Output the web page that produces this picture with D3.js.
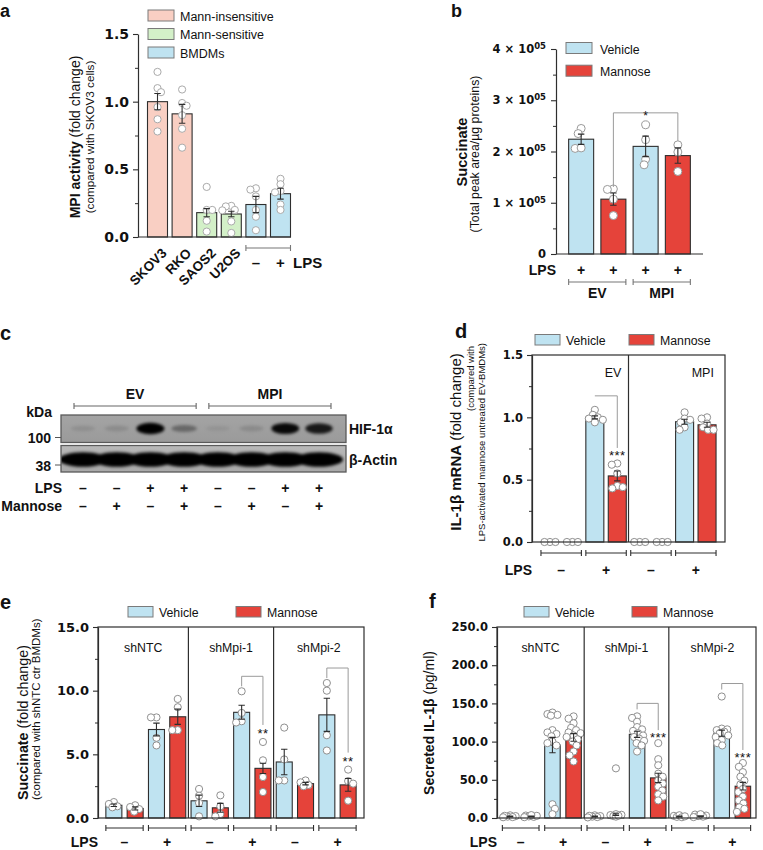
<!DOCTYPE html>
<html>
<head>
<meta charset="utf-8">
<script src="https://cdn.jsdelivr.net/npm/d3@7/dist/d3.min.js"></script>
<style>
html,body{margin:0;padding:0;background:#fff;overflow:hidden}
svg{display:block}
</style>
</head>
<body>
<script>
// ================= DATA =================
// Panel a – MPI activity
const aCategories = ["SKOV3","RKO","SAOS2","U2OS","BMDM LPS–","BMDM LPS+"];
const aTickLabels = ["SKOV3","RKO","SAOS2","U2OS","",""];
const aLpsSigns = ["","","","","–","+"];
const aLegend = ["Mann-insensitive","Mann-sensitive","BMDMs"];
const aType = [0,0,1,1,2,2];
const aMeans = [1.00,0.91,0.18,0.17,0.24,0.32];
const aErrors = [0.06,0.07,0.03,0.02,0.06,0.04];
const aPoints = [
  [1.22,1.10,1.07,0.96,0.87,0.78],
  [1.09,0.99,0.97,0.90,0.80,0.66],
  [0.37,0.20,0.20,0.12,0.04],
  [0.23,0.226,0.20,0.197,0.115,0.03],
  [0.36,0.35,0.30,0.20,0.15,0.05],
  [0.43,0.39,0.34,0.33,0.24,0.20]
];
const aTicks = [0,0.5,1.0,1.5];
const aMinor = [0.25,0.75,1.25];

// Panel b – Succinate
const bCategories = ["EV Vehicle","EV Mannose","MPI Vehicle","MPI Mannose"];
const bTreatment = ["Vehicle","Mannose","Vehicle","Mannose"];
const bGroups = ["EV","MPI"];
const bLpsSigns = ["+","+","+","+"];
const bMeans = [2.24e5,1.07e5,2.10e5,1.92e5];
const bErrors = [0.10e5,0.12e5,0.20e5,0.15e5];
const bPoints = [
  [2.45e5,2.35e5,2.06e5,2.07e5],
  [1.27e5,1.26e5,1.07e5,0.75e5],
  [2.52e5,2.23e5,1.85e5,1.74e5],
  [2.13e5,1.99e5,1.61e5]
];
const bTicks = [0,1e5,2e5,3e5,4e5];
const bMinor = [0.5e5,1.5e5,2.5e5,3.5e5];

// Panel c – western blot
const cLps =     ["–","–","+","+","–","–","+","+"];
const cMannose = ["–","+","–","+","–","+","–","+"];
const cGroups = ["EV","MPI"];
const cHif =   [0.10,0.12,1.00,0.35,0.07,0.13,0.95,0.85];
const cActin = [1,1,1,1,1,1,1,1];
const cMarkers = ["kDa","100","38"];

// Panel d – IL-1β mRNA
const dGroups = ["EV","MPI"];
const lpsStates = ["–","+"];
const treatments = ["Vehicle","Mannose"];
const dMeans = [0,0,1.00,0.53, 0,0,0.965,0.94];
const dErrors = [0,0,0.012,0.04, 0,0,0.02,0.02];
const dPoints = [
  [0,0,0],[0,0,0],
  [1.06,1.02,1.00,0.99,0.98,0.96],
  [0.63,0.62,0.55,0.45,0.44,0.43],
  [0,0,0],[0,0,0],
  [1.04,0.99,0.98,0.96,0.92,0.90],
  [1.00,0.99,0.95,0.92,0.90,0.90]
];
const dTicks = [0,0.5,1.0,1.5];
const dMinor = [0.25,0.75,1.25];

// Panel e – Succinate (shRNA)
const shGroups = ["shNTC","shMpi-1","shMpi-2"];
const eMeans = [1.0,0.75,6.95,7.95, 1.35,0.8,8.3,3.9, 4.4,2.7,8.1,2.6];
const eErrors = [0.1,0.12,0.5,0.6, 0.45,0.35,0.55,0.4, 1.0,0.1,1.3,0.5];
const ePoints = [
  [1.25,1.10,0.92,0.84],
  [1.00,0.86,0.70,0.50],
  [7.9,7.9,6.3,5.7],
  [9.35,8.7,6.9,6.9],
  [2.28,1.75,1.18,0.13],
  [1.78,0.92,0.31,0.13],
  [9.95,8.25,7.6,7.5],
  [5.97,4.53,3.22,2.04],
  [7.1,4.6,2.95,2.95],
  [2.95,2.8,2.6,2.5],
  [10.6,10.0,6.5,5.3],
  [3.8,2.9,2.7,1.36]
];
const eTicks = [0,5,10,15];
const eMinor = [2.5,7.5,12.5];

// Panel f – Secreted IL-1β
const fMeans = [2,2,95.5,105.5, 2,4.5,109.5,52.5, 2,2.5,111,41.6];
const fErrors = [0.5,0.5,10,5, 0.5,1,4,6, 0.5,0.5,4,5];
const fPoints = [
  [3.5,2.5,1.8,1.2,2.8,1.0],
  [3.2,2.1,1.5,2.8,1.1,3.8],
  [138,136,135,134,115,112,110,107,100,98,95,18,12,5],
  [133,130,124,118,115,112,111,108,106,103,100,95,87,82,74],
  [3.5,2.5,1.2,1.8,2.9,0.8],
  [65,5.0,3.8,2.6,1.8,4.2,3.0],
  [133,131,126,119,116,114,111,108,106,104,101,98,95,87],
  [98,77,69,58,54,49,45,41,36,31,28,23],
  [2.8,1.5,3.6,1.0,2.2],
  [4.5,3.2,1.8,2.5,5.0,1.2],
  [159,117,116,115,113,111,108,106,102,98,95],
  [72,67,60,54,49,44,38,34,28,23,19,14,8,12]
];
const fTicks = [0,50,100,150,200,250];
const fMinor = [25,75,125,175,225];

// ================= STYLE =================
const SANS = "'Liberation Sans', Arial, Helvetica, sans-serif";
const TICKF = "'DejaVu Sans', 'Liberation Sans', sans-serif";
const INK = "#2e2e2e";
const VEH = "#bfe3f1", MAN = "#e5433a";
const aFills = ["#f9cfc3","#d3f0c8","#bfe3f1"];
const treatFill = {Vehicle: VEH, Mannose: MAN};

const svg = d3.select("body").append("svg")
  .attr("width",763).attr("height",850).attr("font-family",SANS);

function txt(g,x,y,s,o={}){
  const t=g.append("text").attr("x",x).attr("y",y).text(s)
    .attr("font-family",o.family||SANS).attr("font-size",o.size||12)
    .attr("font-weight",o.weight||"normal").attr("text-anchor",o.anchor||"start")
    .attr("fill",o.fill||"#111");
  if(o.transform) t.attr("transform",o.transform);
  if(o.ls) t.attr("letter-spacing",o.ls);
  return t;
}

function drawYAxis(g,y,x0,major,minor,fmt,size,pad){
  const gm=g.append("g").attr("transform",`translate(${x0},0)`)
    .call(d3.axisLeft(y).tickValues(minor).tickSize(3).tickFormat(""));
  gm.select(".domain").remove();
  gm.selectAll("line").attr("stroke",INK).attr("stroke-width",1);
  const ga=g.append("g").attr("transform",`translate(${x0},0)`)
    .call(d3.axisLeft(y).tickValues(major).tickSize(5).tickSizeOuter(0).tickPadding(pad).tickFormat(fmt));
  ga.select(".domain").attr("stroke",INK).attr("stroke-width",1.2);
  ga.selectAll(".tick line").attr("stroke",INK).attr("stroke-width",1.1);
  ga.selectAll(".tick text").attr("font-family",TICKF).attr("font-weight","bold")
    .attr("font-size",size).attr("fill","#111");
  return ga;
}

// deterministic beeswarm (GraphPad-like scatter, dots may partly overlap)
function beeswarm(vals,y,r,maxOff){
  const minD=1.45*r;
  const idx=d3.range(vals.length).sort((a,b)=>vals[b]-vals[a]);
  const steps=d3.range(-Math.floor(maxOff*2),Math.floor(maxOff*2)+1).map(k=>k/2);
  const placed=[],offs=[];
  idx.forEach((i,n)=>{
    const pref=n%2?-1:1;
    const cands=steps.slice().sort((a,b)=>Math.abs(a)-Math.abs(b)||(Math.sign(b)===pref?1:-1));
    const py=y(vals[i]);
    let best=0,bestD=-1;
    for(const c of cands){
      let md=Infinity;
      for(const p of placed) md=Math.min(md,Math.hypot(c-p[0],py-p[1]));
      if(md>=minD){best=c;break;}
      if(md>bestD){bestD=md;best=c;}
    }
    placed.push([best,py]);offs[i]=best;
  });
  return offs;
}

function drawBars(g,x,y,cats,means,errs,pts,fills,bw,r,dotStroke){
  g.selectAll(null).data(cats.filter((c,i)=>means[i]>0)).join("rect")
    .attr("x",d=>x(d)-bw/2).attr("width",bw)
    .attr("y",d=>y(means[cats.indexOf(d)]))
    .attr("height",d=>y(0)-y(means[cats.indexOf(d)]))
    .attr("fill",d=>fills[cats.indexOf(d)]).attr("stroke",INK).attr("stroke-width",1.1);
  cats.forEach((c,i)=>{
    const offs=beeswarm(pts[i],y,r,bw/2-0.5);
    g.append("g").selectAll("circle").data(pts[i]).join("circle")
      .attr("cx",(v,j)=>x(c)+offs[j]).attr("cy",v=>y(v)).attr("r",r)
      .attr("fill","#fff").attr("stroke",dotStroke).attr("stroke-width",1);
  });
  cats.forEach((c,i)=>{
    if(!errs[i]) return;
    const cx=x(c), t=y(means[i]+errs[i]), b=y(means[i]-errs[i]), cw=3.2;
    g.append("path").attr("d",`M${cx},${t}V${b}M${cx-cw},${t}H${cx+cw}M${cx-cw},${b}H${cx+cw}`)
      .attr("stroke",INK).attr("stroke-width",1.1).attr("fill","none");
  });
}

function pairBracket(g,x1,x2,yy,color){
  g.append("path").attr("d",`M${x1},${yy}H${x2}M${x1},${yy-3}V${yy+3}M${x2},${yy-3}V${yy+3}`)
    .attr("stroke",color).attr("stroke-width",1.1).attr("fill","none");
}

function sigBracket(g,x,y,cats,pts,iL,iR,label,o){
  const xl=x(cats[iL]),xr=x(cats[iR]);
  const yL=y(d3.max(pts[iL]))-o.gapL;
  const yR=y(d3.max(pts[iR]))-o.gapR;
  const between=d3.merge(pts.slice(iL,iR+1));
  const yT=Math.min(y(d3.max(between))-o.gapT,yL-o.legL);
  g.append("path").attr("d",`M${xl},${yL}V${yT}H${xr}V${yR}`)
    .attr("fill","none").attr("stroke","#9a9a9a").attr("stroke-width",1);
  if(o.mid) txt(g,(xl+xr)/2,yT+7,label,{size:12,anchor:"middle"});
  else txt(g,xr,yR+o.lab,label,{size:13,anchor:"middle",ls:0.5});
}

function legendRow(g,items,fills,xs,yRect){
  items.forEach((s,i)=>{
    g.append("rect").attr("x",xs[i]).attr("y",yRect).attr("width",25).attr("height",10.5)
      .attr("fill",fills[i]).attr("stroke","#7a7a7a").attr("stroke-width",1);
    txt(g,xs[i]+31,yRect+10.5,s,{size:12.3});
  });
}

// ================= PANEL a =================
{
  const g=svg.append("g");
  txt(g,0,16.5,"a",{size:18,weight:"bold"});
  const y=d3.scaleLinear().domain([0,1.5]).range([237,34]);
  const x=d3.scalePoint().domain(aCategories).range([157.5,280.5]);
  const bw=20;
  drawBars(g,x,y,aCategories,aMeans,aErrors,aPoints,aType.map(t=>aFills[t]),bw,3.6,"#aaaaaa");
  drawYAxis(g,y,138,aTicks,aMinor,d3.format(".1f"),14,4);
  g.append("line").attr("x1",138).attr("x2",291).attr("y1",y(0)).attr("y2",y(0))
    .attr("stroke",INK).attr("stroke-width",1.2);
  aLegend.forEach((s,i)=>{
    g.append("rect").attr("x",148).attr("y",10+i*18.5).attr("width",26).attr("height",11)
      .attr("fill",aFills[i]).attr("stroke","#7a7a7a").attr("stroke-width",1);
    txt(g,180,20.5+i*18.5,s,{size:12.5});
  });
  aCategories.forEach((c,i)=>{
    if(aTickLabels[i]) txt(g,0,0,aTickLabels[i],{size:13.5,weight:"bold",anchor:"end",
      transform:`translate(${x(c)+10},254) rotate(-45)`});
    if(aLpsSigns[i]) txt(g,x(c),268,aLpsSigns[i],{size:15,weight:"bold",anchor:"middle"});
  });
  const bm=aCategories.filter((c,i)=>aLpsSigns[i]);
  pairBracket(g,x(bm[0])-bw/2,x(bm[1])+bw/2,248,"#777");
  txt(g,293,268,"LPS",{size:15,weight:"bold"});
  const yl=g.append("text").attr("transform","translate(80,137) rotate(-90)")
    .attr("text-anchor","middle").attr("font-size",14).attr("fill","#111");
  yl.append("tspan").attr("font-weight","bold").text("MPI activity");
  yl.append("tspan").text(" (fold change)");
  txt(g,0,0,"(compared with SKOV3 cells)",{size:11.7,anchor:"middle",transform:"translate(94,137) rotate(-90)"});
}

// ================= PANEL b =================
{
  const g=svg.append("g");
  txt(g,451,17,"b",{size:18,weight:"bold"});
  const y=d3.scaleLinear().domain([0,4e5]).range([254,49]);
  const x=d3.scalePoint().domain(bCategories).range([556,703]).padding(0.78);
  const bw=25;
  drawBars(g,x,y,bCategories,bMeans,bErrors,bPoints,bTreatment.map(t=>treatFill[t]),bw,4,"#9a9a9a");
  const ax=drawYAxis(g,y,556,bTicks,bMinor,d=>d,11.5,5);
  ax.selectAll(".tick text").each(function(d){
    const t=d3.select(this); t.text(null);
    if(d===0){t.text("0");return;}
    t.append("tspan").text(`${d/1e5} × 10`);
    t.append("tspan").attr("dy","-0.5em").attr("font-size",8.5).text("05");
  });
  g.append("line").attr("x1",556).attr("x2",703).attr("y1",y(0)).attr("y2",y(0))
    .attr("stroke",INK).attr("stroke-width",1.2);
  sigBracket(g,x,y,bCategories,bPoints,1,3,"*",{gapL:2,gapR:4,gapT:12,legL:10,mid:true});
  ["Vehicle","Mannose"].forEach((s,i)=>{
    g.append("rect").attr("x",566).attr("y",42.5+i*22.7).attr("width",26).attr("height",11)
      .attr("fill",treatFill[s]).attr("stroke","#7a7a7a").attr("stroke-width",1);
    txt(g,600,53.5+i*22.7,s,{size:12.3});
  });
  txt(g,556,275,"LPS",{size:14,weight:"bold",anchor:"end"});
  bCategories.forEach((c,i)=>txt(g,x(c),275,bLpsSigns[i],{size:14,weight:"bold",anchor:"middle"}));
  bGroups.forEach((gr,k)=>{
    const x1=x(bCategories[2*k])-bw/2,x2=x(bCategories[2*k+1])+bw/2;
    pairBracket(g,x1,x2,282,"#777");
    txt(g,(x1+x2)/2,298,gr,{size:14,weight:"bold",anchor:"middle"});
  });
  g.append("text").attr("transform","translate(467,152) rotate(-90)")
    .attr("text-anchor","middle").attr("font-size",14.6).attr("font-weight","bold").attr("fill","#111").text("Succinate");
  txt(g,0,0,"(Total peak area/µg proteins)",{size:12.3,anchor:"middle",transform:"translate(479,154) rotate(-90)"});
}

// ================= PANEL c =================
{
  const g=svg.append("g");
  txt(g,0,340,"c",{size:20,weight:"bold"});
  const lanes=d3.range(cLps.length);
  const x=d3.scalePoint().domain(lanes).range([83,319]);
  const op=d3.scaleLinear().domain([0,1]).range([0,1]);
  const defs=svg.append("defs");
  defs.append("filter").attr("id","blur").attr("x","-50%").attr("y","-50%").attr("width","200%").attr("height","200%")
    .append("feGaussianBlur").attr("stdDeviation",1.8);
  defs.append("clipPath").attr("id","clipTop").append("rect").attr("x",61).attr("y",415).attr("width",285).attr("height",27.5);
  defs.append("clipPath").attr("id","clipBot").append("rect").attr("x",61).attr("y",445.5).attr("width",285).attr("height",26.5);
  const gt=defs.append("linearGradient").attr("id","gTop").attr("x1",0).attr("y1",0).attr("x2",0).attr("y2",1);
  gt.append("stop").attr("offset",0).attr("stop-color","#a4a4a4");
  gt.append("stop").attr("offset",1).attr("stop-color","#9a9a9a");
  const gb=defs.append("linearGradient").attr("id","gBot").attr("x1",0).attr("y1",0).attr("x2",0).attr("y2",1);
  gb.append("stop").attr("offset",0).attr("stop-color","#b8b8b8");
  gb.append("stop").attr("offset",1).attr("stop-color","#a9a9a9");

  g.append("rect").attr("x",61).attr("y",415).attr("width",285).attr("height",27.5).attr("fill","url(#gTop)");
  g.append("g").attr("clip-path","url(#clipTop)").append("g").attr("filter","url(#blur)")
    .selectAll("ellipse").data(lanes).join("ellipse")
    .attr("cx",i=>x(i)).attr("cy",428.5).attr("rx",i=>12+cHif[i]*2)
    .attr("ry",i=>2.5+cHif[i]*3.2).attr("fill","#050505").attr("opacity",i=>op(cHif[i]));
  g.append("rect").attr("x",61).attr("y",415).attr("width",285).attr("height",27.5)
    .attr("fill","none").attr("stroke","#5a5a5a").attr("stroke-width",1.3);

  g.append("rect").attr("x",61).attr("y",445.5).attr("width",285).attr("height",26.5).attr("fill","url(#gBot)");
  g.append("g").attr("clip-path","url(#clipBot)").append("g").attr("filter","url(#blur)")
    .selectAll("ellipse").data(lanes).join("ellipse")
    .attr("cx",i=>x(i)).attr("cy",459.5).attr("rx",24).attr("ry",7.2)
    .attr("fill","#050505").attr("opacity",i=>op(cActin[i]));
  g.append("rect").attr("x",61).attr("y",445.5).attr("width",285).attr("height",26.5)
    .attr("fill","none").attr("stroke","#5a5a5a").attr("stroke-width",1.3);

  txt(g,52,417,cMarkers[0],{size:14,weight:"bold",anchor:"end"});
  txt(g,51,443,cMarkers[1],{size:14,weight:"bold",anchor:"end"});
  txt(g,51,471,cMarkers[2],{size:14,weight:"bold",anchor:"end"});
  g.append("path").attr("d","M55,437.5H61M55,465H61").attr("stroke","#555").attr("stroke-width",1);
  txt(g,349,434,"HIF-1α",{size:14,weight:"bold"});
  txt(g,349,465,"β-Actin",{size:14,weight:"bold"});
  cGroups.forEach((gr,k)=>{
    const x1=x(4*k)-9,x2=x(4*k+3)+12;
    pairBracket(g,x1,x2,406,"#666");
    txt(g,(x1+x2)/2,399,gr,{size:14,weight:"bold",anchor:"middle"});
  });
  txt(g,62,493,"LPS",{size:14,weight:"bold",anchor:"end"});
  txt(g,62,511,"Mannose",{size:14,weight:"bold",anchor:"end"});
  lanes.forEach(i=>{
    txt(g,x(i),493,cLps[i],{size:14,weight:"bold",anchor:"middle"});
    txt(g,x(i),511,cMannose[i],{size:14,weight:"bold",anchor:"middle"});
  });
}

// ============ helper for framed panels (d,e,f) ============
function framedPanel(o){
  const g=svg.append("g");
  const cats=[];
  o.groups.forEach(gr=>lpsStates.forEach(l=>treatments.forEach(t=>cats.push(`${gr}|${l}|${t}`))));
  const y=d3.scaleLinear().domain(o.domain).range([o.bottom,o.top]);
  const x=d3.scalePoint().domain(cats).range([o.left,o.right]).padding(o.pad);
  const fills=cats.map(c=>treatFill[c.split("|")[2]]);
  drawBars(g,x,y,cats,o.means,o.errs,o.pts,fills,o.bw,3.6,"#8f8f8f");
  drawYAxis(g,y,o.left,o.ticks,o.minor,d3.format(".1f"),o.tickSize,4);
  g.append("rect").attr("x",o.left).attr("y",o.top).attr("width",o.right-o.left).attr("height",o.bottom-o.top)
    .attr("fill","none").attr("stroke",INK).attr("stroke-width",1.2);
  const per=lpsStates.length*treatments.length;
  o.groups.forEach((gr,k)=>{
    const cs=cats.slice(k*per,(k+1)*per);
    if(k>0){
      const xd=(x(cats[k*per-1])+x(cats[k*per]))/2;
      g.append("line").attr("x1",xd).attr("x2",xd).attr("y1",o.top).attr("y2",o.bottom)
        .attr("stroke",INK).attr("stroke-width",1.2);
    }
    lpsStates.forEach((l,j)=>{
      const a=cs[j*2],b=cs[j*2+1];
      pairBracket(g,x(a)-o.bw/2,x(b)+o.bw/2,o.brY,INK);
      txt(g,(x(a)+x(b))/2,o.lpsY,l,{size:14,weight:"bold",anchor:"middle"});
    });
    if(o.groupLabelMode==="pair"){
      const a=cs[2],b=cs[3];
      txt(g,(x(a)+x(b))/2+7,o.groupY,gr,{size:12.5,anchor:"middle"});
    } else {
      const x1=k===0?o.left:(x(cats[k*per-1])+x(cats[k*per]))/2;
      const x2=k===o.groups.length-1?o.right:(x(cats[(k+1)*per-1])+x(cats[(k+1)*per]))/2;
      txt(g,(x1+x2)/2,o.groupY,gr,{size:12.3,anchor:"middle"});
    }
  });
  txt(g,o.left,o.lpsY,"LPS",{size:14,weight:"bold",anchor:"end"});
  o.sig.forEach(s=>sigBracket(g,x,y,cats,o.pts,s[0],s[1],s[2],o.sigOpt));
  legendRow(g,treatments,treatments.map(t=>treatFill[t]),o.legX,o.legY);
  txt(g,o.labelPos[0],o.labelPos[1],o.label,{size:20,weight:"bold"});
  return g;
}

// ================= PANEL d =================
{
  const g=framedPanel({groups:dGroups,domain:[0,1.5],top:355,bottom:542,left:532,right:725,pad:0.8,
    bw:18,means:dMeans,errs:dErrors,pts:dPoints,ticks:dTicks,minor:dMinor,tickSize:11.5,
    brY:553,lpsY:575,groupLabelMode:"pair",groupY:377,
    sig:[[2,3,"***"]],sigOpt:{gapL:14,gapR:15.5,gapT:14,legL:0,lab:12},
    legX:[535,629],legY:334.5,label:"d",labelPos:[455,338]});
  const yl=g.append("text").attr("transform","translate(461,442) rotate(-90)")
    .attr("text-anchor","middle").attr("font-size",15).attr("fill","#111");
  yl.append("tspan").attr("font-weight","bold").text("IL-1β mRNA");
  yl.append("tspan").text(" (fold change)");
  txt(g,0,0,"(compared with",{size:9.5,anchor:"end",transform:"translate(474,346) rotate(-90)"});
  txt(g,0,0,"LPS-activated mannose untreated EV-BMDMs)",{size:9.5,anchor:"end",transform:"translate(485,343) rotate(-90)"});
}

// ================= PANEL e =================
{
  const g=framedPanel({groups:shGroups,domain:[0,15],top:627,bottom:818,left:98,right:364,pad:0.745,
    bw:16,means:eMeans,errs:eErrors,pts:ePoints,ticks:eTicks,minor:eMinor,tickSize:13,
    brY:828,lpsY:847,groupLabelMode:"group",groupY:652,
    sig:[[6,7,"**"],[10,11,"**"]],sigOpt:{gapL:5,gapR:17,gapT:10,legL:10,lab:13},
    legX:[128,236],legY:606.5,label:"e",labelPos:[0,609]});
  const yl=g.append("text").attr("transform","translate(28,800) rotate(-90)")
    .attr("text-anchor","start").attr("font-size",14.3).attr("fill","#111");
  yl.append("tspan").attr("font-weight","bold").text("Succinate");
  yl.append("tspan").text(" (fold change)");
  txt(g,0,0,"(compared with shNTC ctr BMDMs)",{size:11.5,anchor:"start",transform:"translate(40,800) rotate(-90)"});
}

// ================= PANEL f =================
{
  const g=framedPanel({groups:shGroups,domain:[0,250],top:627,bottom:818,left:497,right:756,pad:0.62,
    bw:15.5,means:fMeans,errs:fErrors,pts:fPoints,ticks:fTicks,minor:fMinor,tickSize:11.5,
    brY:828,lpsY:847,groupLabelMode:"group",groupY:652,
    sig:[[6,7,"***"],[10,11,"***"]],sigOpt:{gapL:7,gapR:13,gapT:12,legL:6,lab:12},
    legX:[524,632],legY:606.5,label:"f",labelPos:[429,608]});
  const yl=g.append("text").attr("transform","translate(434,723) rotate(-90)")
    .attr("text-anchor","middle").attr("font-size",14).attr("fill","#111");
  yl.append("tspan").attr("font-weight","bold").text("Secreted IL-1β");
  yl.append("tspan").text(" (pg/ml)");
}
</script>
</body>
</html>
